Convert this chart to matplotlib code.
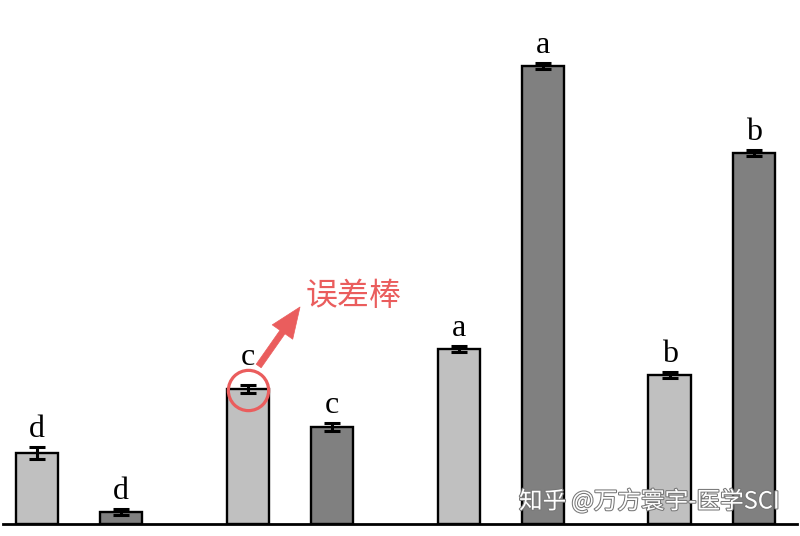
import matplotlib.pyplot as plt
import matplotlib.patheffects as pe
import numpy as np

# bar heights, errors and significance letters
positions = [0, 1, 2.5, 3.5, 5, 6, 7.5, 8.5]
values = [7.1, 1.2, 13.5, 9.7, 17.5, 45.8, 14.9, 37.1]
errors = [0.6, 0.3, 0.4, 0.4, 0.3, 0.3, 0.3, 0.3]
letters = ['d', 'd', 'c', 'c', 'a', 'a', 'b', 'b']
colors = ['#c0c0c0', '#808080'] * 4

fig = plt.figure(figsize=(8, 5.36), dpi=100)
ax = fig.add_axes([3 / 800, 12 / 536, 794 / 800, 524 / 536])

ax.bar(positions, values, width=0.5, color=colors, edgecolor='black', linewidth=1.7, zorder=2)
ax.errorbar(positions, values, yerr=errors, fmt='none', ecolor='black',
            elinewidth=2.2, capsize=6, capthick=2.2, zorder=3)

for i, (x, v, e, s) in enumerate(zip(positions, values, errors, letters)):
    gap = 2.0 if i == 2 else 1.0   # the circled bar has its letter lifted
    ax.text(x, v + e + gap, s, ha='center', va='baseline', fontsize=23,
            family='Liberation Serif')

ax.set_xlim(-0.4, 9.01)
ax.set_ylim(0, 52.4)
for side in ['left', 'right', 'top']:
    ax.spines[side].set_visible(False)
ax.spines['bottom'].set_linewidth(2)
ax.set_xticks([])
ax.set_yticks([])

# red circle + arrow pointing at the error bar of the third bar
red = '#ea5d5d'
ax.plot(positions[2], values[2] - 0.1, 'o', ms=29, mfc='none', mec=red, mew=2.3, zorder=4)
ax.annotate('', xy=(3.12, 21.7), xytext=(2.63, 15.8),
            arrowprops=dict(arrowstyle='simple,head_width=0.9,head_length=1.1,tail_width=0.22',
                            mutation_scale=20, color=red, lw=0.5, shrinkA=0, shrinkB=0))
ax.text(3.19, 22.8, '误差棒', color=red, fontsize=23, ha='left', va='center',
        family=['Noto Sans CJK SC', 'DejaVu Sans'])

# watermark
fig.text(519 / 800, 1 - 501 / 536, '知乎 @万方寰宇-医学SCI', color='white', fontsize=17,
         ha='left', va='center', family=['Noto Sans CJK SC', 'DejaVu Sans'],
         path_effects=[pe.withStroke(linewidth=1.5, foreground='#777777')])

fig.savefig('out.png', dpi=100)
